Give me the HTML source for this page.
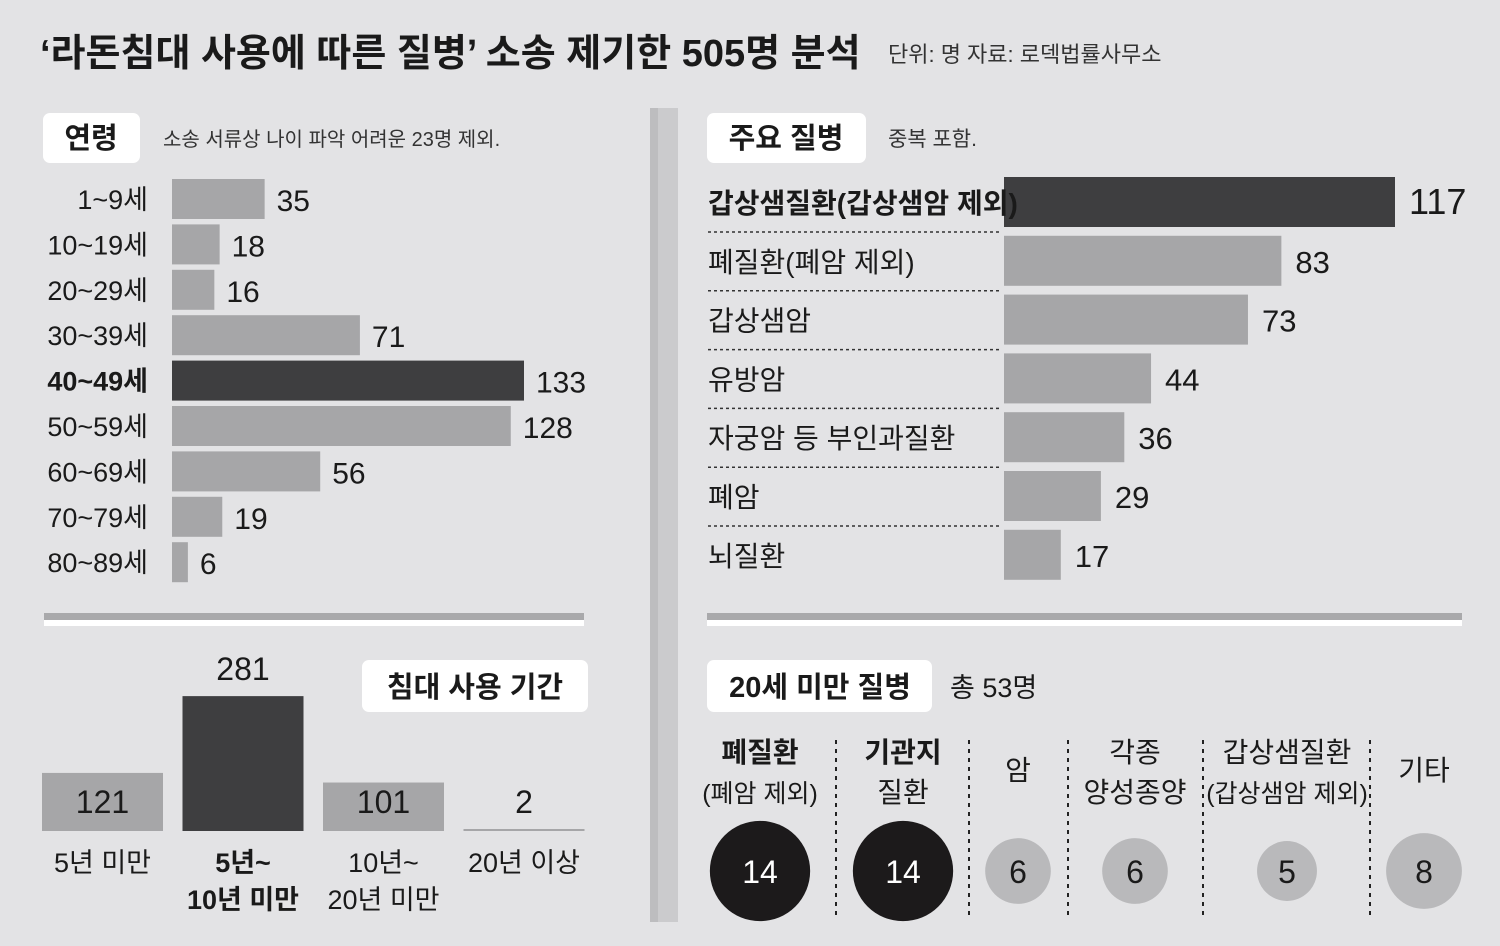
<!DOCTYPE html>
<html><head><meta charset="utf-8"><style>
body{margin:0;background:#e3e3e5;}
svg{display:block;font-family:"Liberation Sans Narrow","Liberation Sans","Noto Sans CJK KR",sans-serif;}
</style></head><body>
<svg id="c" width="1500" height="946" viewBox="0 0 1500 946" xmlns="http://www.w3.org/2000/svg">
<rect width="1500" height="946" fill="#e3e3e5"/>
<text x="40" y="66" font-size="38" font-weight="bold" fill="#1a1a1a">‘라돈침대 사용에 따른 질병’ 소송 제기한 505명 분석</text>
<text x="888" y="62" font-size="22" fill="#333">단위: 명  자료: 로덱법률사무소</text>
<rect x="650" y="108" width="28" height="814" fill="#cbcbcd"/>
<rect x="650" y="108" width="8" height="814" fill="#bdbdbf"/>

<rect x="43" y="113" width="97" height="50" rx="7" fill="#fff"/>
<text x="91" y="148" font-size="29" font-weight="bold" text-anchor="middle" fill="#1a1a1a">연령</text>
<text x="163" y="146" font-size="20" fill="#333">소송 서류상 나이 파악 어려운 23명 제외.</text>
<g id="age"></g>

<rect x="44" y="613" width="540" height="7" fill="#a9a9ab"/>
<rect x="44" y="620" width="540" height="6" fill="#fff"/>
<rect x="707" y="613" width="755" height="7" fill="#a9a9ab"/>
<rect x="707" y="620" width="755" height="6" fill="#fff"/>

<rect x="362" y="660" width="226" height="52" rx="7" fill="#fff"/>
<text x="475" y="697" font-size="29" font-weight="bold" text-anchor="middle" fill="#1a1a1a">침대 사용 기간</text>
<g id="dur"></g>

<rect x="707" y="113" width="159" height="50" rx="7" fill="#fff"/>
<text x="786" y="148" font-size="29" font-weight="bold" text-anchor="middle" fill="#1a1a1a">주요 질병</text>
<text x="888" y="146" font-size="21" fill="#333">중복 포함.</text>
<g id="dis"></g>

<rect x="707" y="660" width="225" height="52" rx="7" fill="#fff"/>
<text x="820" y="697" font-size="29" font-weight="bold" text-anchor="middle" fill="#1a1a1a">20세 미만 질병</text>
<text x="950" y="697" font-size="27" fill="#1a1a1a">총 53명</text>
<g id="kid"></g>
</svg>
<script>
const ageCats=["1~9세","10~19세","20~29세","30~39세","40~49세","50~59세","60~69세","70~79세","80~89세"];
const ageVals=[35,18,16,71,133,128,56,19,6];
const durCats=[["5년 미만"],["5년~","10년 미만"],["10년~","20년 미만"],["20년 이상"]];
const durVals=[121,281,101,2];
const disCats=["갑상샘질환(갑상샘암 제외)","폐질환(폐암 제외)","갑상샘암","유방암","자궁암 등 부인과질환","폐암","뇌질환"];
const disVals=[117,83,73,44,36,29,17];
const kidCats=[["폐질환","(폐암 제외)"],["기관지","질환"],["암"],["각종","양성종양"],["갑상샘질환","(갑상샘암 제외)"],["기타"]];
const kidVals=[14,14,6,6,5,8];
const NS="http://www.w3.org/2000/svg";
function mk(p,t,a,txt){const e=document.createElementNS(NS,t);for(const k in a)e.setAttribute(k,a[k]);if(txt!=null)e.textContent=txt;p.appendChild(e);return e;}
const DARK="#3e3e40",GRAY="#a6a6a8";
// age
const ageG=document.getElementById('age');
const ageX=v=>v*352/133, ageY=i=>179+i*45.4;
const ageMax=Math.max(...ageVals);
ageVals.forEach((v,i)=>{
 const y=ageY(i),hi=v===ageMax;
 let r=mk(ageG,'rect',{x:172,y:y,width:ageX(v),height:40,fill:hi?DARK:GRAY});
 
 let l=mk(ageG,'text',{x:148,y:y+30,'font-size':27,'text-anchor':'end',fill:'#1a1a1a','font-weight':hi?'bold':'normal'},ageCats[i]);
 
 let t=mk(ageG,'text',{x:172+ageX(v)+12,y:y+32,'font-size':30,fill:'#1a1a1a'},v);
 
});
// duration
const durG=document.getElementById('dur');
const durH=v=>v*0.48, base=831, durX=i=>42+i*140.5, bw=121;
const durMax=Math.max(...durVals);
durVals.forEach((v,i)=>{
 const x=durX(i),h=durH(v),hi=v===durMax,cx=x+bw/2;
 if(h>3){let r=mk(durG,'rect',{x:x,y:base-h,width:bw,height:h,fill:hi?DARK:GRAY});
 }
 else{let r=mk(durG,'rect',{x:x,y:base-2,width:bw,height:2,fill:'#a6a6a8'});
 }
 let t=mk(durG,'text',{x:cx,y:hi?base-h-16:base-18,'font-size':32,'text-anchor':'middle',fill:'#1a1a1a'},v);
 
 durCats[i].forEach((s,j)=>{let l=mk(durG,'text',{x:cx,y:872+j*37,'font-size':27,'text-anchor':'middle',fill:'#1a1a1a','font-weight':hi?'bold':'normal'},s);
 });
});
// diseases
const disG=document.getElementById('dis');
const disX=v=>v*391/117, disY=i=>177+i*58.8;
disVals.forEach((v,i)=>{
 const y=disY(i),hi=i===0;
 let r=mk(disG,'rect',{x:1004,y:y,width:disX(v),height:50,fill:hi?DARK:GRAY});
 
 let l=mk(disG,'text',{x:708,y:y+36,'font-size':28,fill:'#1a1a1a','font-weight':hi?'bold':'normal'},disCats[i]);
 
 let t=mk(disG,'text',{x:1004+disX(v)+14,y:y+37,'font-size':hi?36:31,fill:'#1a1a1a'},v);
 
 if(i<disVals.length-1){let d=mk(disG,'line',{x1:708,x2:1002,y1:y+55,y2:y+55,stroke:'#333','stroke-width':1.5,'stroke-dasharray':'3 3'});
 }
});
// under 20
const kidG=document.getElementById('kid');
const kidCx=[760,903,1018,1135,1287,1424], seps=[836,969,1068,1203,1370];
const kidR=v=>13.4*Math.sqrt(v);
seps.forEach(x=>{let d=mk(kidG,'line',{x1:x,x2:x,y1:740,y2:917,stroke:'#222','stroke-width':2,'stroke-dasharray':'4 5'});
 });
kidVals.forEach((v,i)=>{
 const cx=kidCx[i],hi=v>=10,lines=kidCats[i];
 const y0=lines.length===1?780:762;
 lines.forEach((s,j)=>{let l=mk(kidG,'text',{x:cx,y:y0+j*40,'font-size':j===1&&s.startsWith('(')?25:28,'text-anchor':'middle',fill:'#1a1a1a','font-weight':hi&&j===0?'bold':'normal'},s);
 });
 let c=mk(kidG,'circle',{cx:cx,cy:871,r:kidR(v),fill:hi?'#1c1a1b':'#b9b9bb'});
 
 let t=mk(kidG,'text',{x:cx,y:883,'font-size':32,'text-anchor':'middle',fill:hi?'#fff':'#1a1a1a'},v);
 
});
</script>
</body></html>
